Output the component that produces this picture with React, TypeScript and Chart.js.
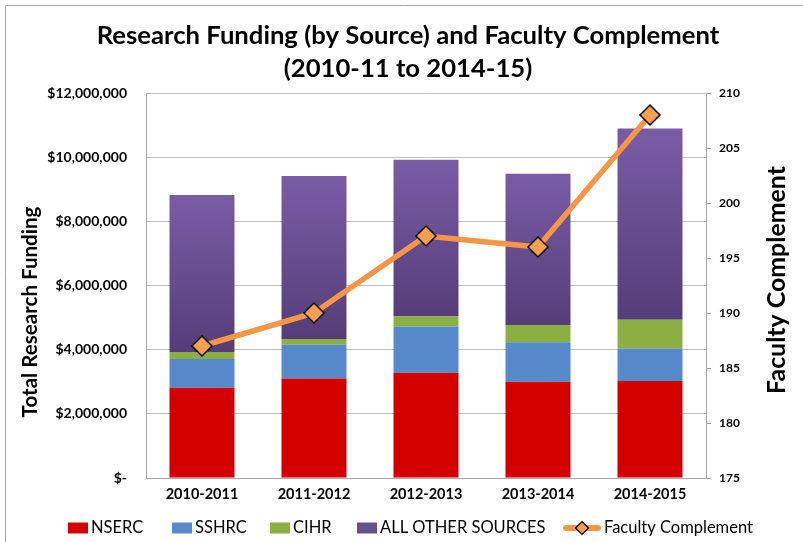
import React, { useEffect, useRef } from "react";
import { Chart, registerables } from "chart.js";

Chart.register(...registerables);

const categories = ["2010-2011", "2011-2012", "2012-2013", "2013-2014", "2014-2015"];
const nserc = [2810000, 3100000, 3280000, 3000000, 3020000];
const sshrc = [900000, 1050000, 1440000, 1230000, 1020000];
const cihr = [220000, 180000, 310000, 540000, 890000];
const otherSources = [4890000, 5080000, 4890000, 4710000, 5960000];
const faculty = [187, 190, 197, 196, 208];

const fundingMin = 0;
const fundingMax = 12000000;
const fundingStep = 2000000;
const facultyMin = 175;
const facultyMax = 210;
const facultyStep = 5;

const titleLines = ["Research Funding (by Source) and Faculty Complement", "(2010-11 to 2014-15)"];
const leftAxisTitle = "Total Research Funding";
const rightAxisTitle = "Faculty Complement";
const legendLabels = ["NSERC", "SSHRC", "CIHR", "ALL OTHER SOURCES", "Faculty Complement"];
const legendStarts = [68, 172, 270, 357, 563];

const FONT = "Lato, 'Open Sans', sans-serif";
const COLORS = {
  nserc: "#D40000",
  sshrc: "#558ACB",
  cihr: "#8BAF42",
  other: "#67508E",
  line: "#F79646",
  marker: "#F9A04F",
};

function fitFont(ctx: CanvasRenderingContext2D, text: string, weight: string, target: number) {
  ctx.font = `${weight} 20px ${FONT}`;
  const w = ctx.measureText(text).width;
  return (20 * target) / w;
}

const decorPlugin = {
  id: "decor",
  afterDraw(chart: any) {
    const ctx: CanvasRenderingContext2D = chart.ctx;
    ctx.save();
    // outer frame
    ctx.strokeStyle = "#A6A6A6";
    ctx.lineWidth = 1;
    ctx.beginPath();
    ctx.moveTo(5.5, 542);
    ctx.lineTo(5.5, 5.5);
    ctx.lineTo(803, 5.5);
    ctx.stroke();

    // title
    ctx.fillStyle = "#000";
    ctx.textAlign = "center";
    ctx.textBaseline = "middle";
    const ts = fitFont(ctx, titleLines[0], "bold", 623);
    ctx.font = `bold ${ts}px ${FONT}`;
    ctx.fillText(titleLines[0], 408, 36);
    ctx.fillText(titleLines[1], 408, 69);

    // axis titles
    const ls = fitFont(ctx, leftAxisTitle, "bold", 211);
    ctx.font = `bold ${ls}px ${FONT}`;
    ctx.save();
    ctx.translate(30, 312);
    ctx.rotate(-Math.PI / 2);
    ctx.fillText(leftAxisTitle, 0, 0);
    ctx.restore();
    const rs = fitFont(ctx, rightAxisTitle, "bold", 228);
    ctx.font = `bold ${rs}px ${FONT}`;
    ctx.save();
    ctx.translate(777, 280);
    ctx.rotate(-Math.PI / 2);
    ctx.fillText(rightAxisTitle, 0, 0);
    ctx.restore();

    // legend
    ctx.font = `16.5px ${FONT}`;
    ctx.textAlign = "left";
    const boxW = 20;
    const lineW = 38;
    const gapInner = 3;
    const ly = 528;
    const boxColors = [COLORS.nserc, COLORS.sshrc, COLORS.cihr, COLORS.other];
    legendLabels.forEach((label, i) => {
      let x = legendStarts[i];
      if (i < 4) {
        ctx.fillStyle = boxColors[i];
        ctx.fillRect(x, ly - 5.5, boxW, 11);
        x += boxW + gapInner;
      } else {
        ctx.strokeStyle = COLORS.line;
        ctx.lineWidth = 6;
        ctx.lineCap = "round";
        ctx.beginPath();
        ctx.moveTo(x + 3, ly);
        ctx.lineTo(x + lineW - 3, ly);
        ctx.stroke();
        const cx = x + lineW / 2;
        const r = 6.5;
        ctx.beginPath();
        ctx.moveTo(cx, ly - r);
        ctx.lineTo(cx + r, ly);
        ctx.lineTo(cx, ly + r);
        ctx.lineTo(cx - r, ly);
        ctx.closePath();
        ctx.fillStyle = COLORS.marker;
        ctx.fill();
        ctx.strokeStyle = "#000";
        ctx.lineWidth = 1.2;
        ctx.stroke();
        x += lineW + gapInner;
      }
      ctx.fillStyle = "#000";
      ctx.textBaseline = "middle";
      ctx.fillText(label, x, ly);
    });
    ctx.restore();
  },
};

function purpleGradient(c: any) {
  const chart = c.chart;
  const y = chart.scales && chart.scales.y;
  if (!y || c.type !== "data" || !chart.chartArea) return COLORS.other;
  const i = c.dataIndex;
  const base = nserc[i] + sshrc[i] + cihr[i];
  const top = y.getPixelForValue(base + otherSources[i]);
  const bot = y.getPixelForValue(base);
  const g = chart.ctx.createLinearGradient(0, top, 0, bot);
  g.addColorStop(0, "#7A5CA6");
  g.addColorStop(1, "#553D78");
  return g;
}

export default function App() {
  const ref = useRef<HTMLCanvasElement | null>(null);
  useEffect(() => {
    if (!ref.current) return;
    const barCommon = {
      type: "bar" as const,
      yAxisID: "y",
      stack: "funding",
      order: 1,
      barPercentage: 0.58,
      categoryPercentage: 1,
      borderWidth: 0,
    };
    const chart = new Chart(ref.current, {
      data: {
        labels: categories,
        datasets: [
          { ...barCommon, label: legendLabels[0], data: nserc, backgroundColor: COLORS.nserc },
          { ...barCommon, label: legendLabels[1], data: sshrc, backgroundColor: COLORS.sshrc },
          { ...barCommon, label: legendLabels[2], data: cihr, backgroundColor: COLORS.cihr },
          { ...barCommon, label: legendLabels[3], data: otherSources, backgroundColor: purpleGradient },
          {
            type: "line" as const,
            label: legendLabels[4],
            data: faculty,
            yAxisID: "y1",
            order: 0,
            borderColor: COLORS.line,
            borderWidth: 5.5,
            pointStyle: "rectRot",
            pointRadius: 10,
            pointBackgroundColor: COLORS.marker,
            pointBorderColor: "#000",
            pointBorderWidth: 1.5,
            tension: 0,
          },
        ],
      } as any,
      options: {
        responsive: false,
        animation: false,
        devicePixelRatio: 1,
        layout: { padding: { top: 93, left: 0, right: 0, bottom: 30 } },
        plugins: {
          legend: { display: false },
          title: { display: false },
          tooltip: { enabled: false },
        },
        scales: {
          x: {
            stacked: true,
            grid: { display: false, drawTicks: false },
            border: { display: true, color: "#A6A6A6" },
            ticks: {
              color: "#000",
              padding: 8,
              font: { family: FONT, size: 14.5, weight: "bold" },
            },
            afterFit: (s: any) => {
              s.height = 34;
            },
          },
          y: {
            stacked: true,
            position: "left",
            min: fundingMin,
            max: fundingMax,
            ticks: {
              stepSize: fundingStep,
              color: "#000",
              padding: 19,
              font: { family: FONT, size: 14, weight: "bold" },
              callback: (v: any) => (Number(v) === 0 ? "$-" : "$" + Number(v).toLocaleString("en-US")),
            },
            grid: { color: "#BFBFBF", drawTicks: false, lineWidth: 1 },
            border: { display: true, color: "#A6A6A6" },
            afterFit: (s: any) => {
              s.width = 146;
            },
          },
          y1: {
            position: "right",
            min: facultyMin,
            max: facultyMax,
            ticks: {
              stepSize: facultyStep,
              color: "#000",
              padding: 8,
              font: { family: FONT, size: 12, weight: "bold" },
            },
            grid: { drawOnChartArea: false, drawTicks: true, tickLength: 5, color: "#A6A6A6" },
            border: { display: true, color: "#A6A6A6" },
            afterFit: (s: any) => {
              s.width = 97;
            },
          },
        },
      } as any,
      plugins: [decorPlugin],
    });
    return () => chart.destroy();
  }, []);
  return (
    <div style={{ position: "fixed", left: 0, top: 0, width: 803, height: 542, background: "#fff" }}>
      <canvas ref={ref} width={803} height={542} style={{ display: "block" }} />
    </div>
  );
}
